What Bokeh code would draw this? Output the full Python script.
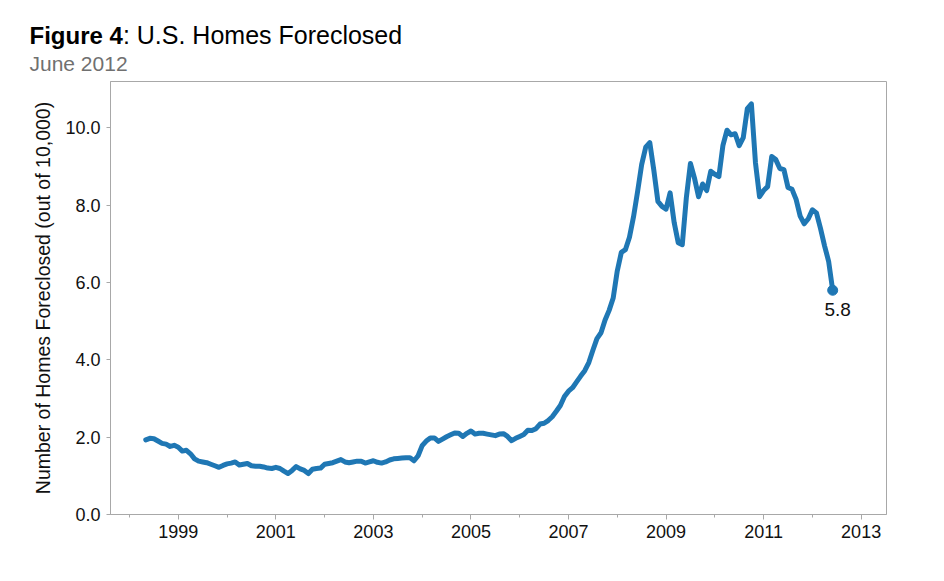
from bokeh.plotting import figure
from bokeh.layouts import column
from bokeh.models import Label, FixedTicker, NumeralTickFormatter, Range1d, ColumnDataSource
from bokeh.core.properties import value
from bokeh.embed import file_html
from bokeh.resources import INLINE

# ---- data: homes foreclosed per 10,000, monthly, May 1998 - June 2012 ----
start_year = 1998
start_month = 5
homes_1998 = [1.93, 1.97, 1.96, 1.90, 1.84, 1.82, 1.76, 1.79]
homes_1999 = [1.74, 1.64, 1.66, 1.57, 1.44, 1.38, 1.36, 1.34, 1.30, 1.26, 1.22, 1.27]
homes_2000 = [1.31, 1.33, 1.36, 1.28, 1.30, 1.32, 1.26, 1.25, 1.25, 1.23, 1.20, 1.19]
homes_2001 = [1.22, 1.19, 1.12, 1.06, 1.14, 1.24, 1.18, 1.14, 1.06, 1.17, 1.19, 1.20]
homes_2002 = [1.30, 1.32, 1.34, 1.38, 1.42, 1.36, 1.34, 1.36, 1.38, 1.38, 1.33, 1.36]
homes_2003 = [1.39, 1.35, 1.33, 1.36, 1.41, 1.44, 1.45, 1.46, 1.47, 1.47, 1.39, 1.52]
homes_2004 = [1.78, 1.90, 1.98, 1.98, 1.89, 1.95, 2.01, 2.06, 2.11, 2.10, 2.02, 2.10]
homes_2005 = [2.16, 2.08, 2.10, 2.10, 2.08, 2.06, 2.04, 2.08, 2.09, 2.02, 1.91, 1.97]
homes_2006 = [2.02, 2.07, 2.18, 2.17, 2.22, 2.34, 2.36, 2.43, 2.53, 2.67, 2.82, 3.05]
homes_2007 = [3.19, 3.28, 3.43, 3.58, 3.72, 3.93, 4.25, 4.55, 4.70, 5.03, 5.28, 5.60]
homes_2008 = [6.30, 6.78, 6.85, 7.17, 7.70, 8.35, 9.05, 9.50, 9.62, 8.90, 8.10, 7.97]
homes_2009 = [7.90, 8.32, 7.55, 7.03, 6.98, 8.20, 9.08, 8.70, 8.22, 8.55, 8.38, 8.88]
homes_2010 = [8.80, 8.74, 9.55, 9.94, 9.82, 9.85, 9.54, 9.75, 10.50, 10.62, 9.10, 8.22]
homes_2011 = [8.38, 8.48, 9.26, 9.18, 8.95, 8.92, 8.46, 8.41, 8.15, 7.72, 7.52, 7.65]
homes_2012 = [7.88, 7.80, 7.40, 6.95, 6.55, 5.80]

values = (homes_1998 + homes_1999 + homes_2000 + homes_2001 + homes_2002 + homes_2003
          + homes_2004 + homes_2005 + homes_2006 + homes_2007 + homes_2008 + homes_2009
          + homes_2010 + homes_2011 + homes_2012)
dates = [start_year + (start_month - 1 + i) / 12.0 for i in range(len(values))]

year_labels = [1999, 2001, 2003, 2005, 2007, 2009, 2011, 2013]
year_minor = list(range(1998, 2014))
y_ticks = [0, 2, 4, 6, 8, 10]

title_bold = "Figure 4"
title_rest = ": U.S. Homes Foreclosed"
subtitle = "June 2012"
y_label = "Number of Homes Foreclosed (out of 10,000)"

FONT = "Liberation Sans"
BLUE = "#1f77b4"
AXC = "#a8a8a8"
W = 930
HEAD = 81

# ---- header figure holding the title texts (pixel coordinates, y down) ----
head = figure(width=W, height=HEAD, output_backend="svg", toolbar_location=None,
              x_range=Range1d(0, W), y_range=Range1d(HEAD, 0),
              x_axis_type=None, y_axis_type=None,
              min_border=0, min_border_left=0, min_border_right=0,
              min_border_top=0, min_border_bottom=0)
head.frame_align = False
head.outline_line_color = None
head.grid.visible = False
head.background_fill_color = "white"
head.border_fill_color = "white"
head.text(x=[29], y=[34.5], text=[title_bold], text_font=value(FONT), text_font_size="24px",
          text_font_style="bold", text_color="#000000", text_baseline="alphabetic",
          text_align="left")
head.text(x=[122.4], y=[34.5], text=[title_rest], text_font=value(FONT), text_font_size="25px",
          text_font_style="normal", text_color="#000000", text_baseline="alphabetic",
          text_align="left")
head.text(x=[29], y=[63], text=[subtitle], text_font=value(FONT), text_font_size="21px",
          text_color="#707070", text_baseline="alphabetic", text_align="left")

# ---- main chart ----
src = ColumnDataSource(dict(x=dates, y=values))
last = ColumnDataSource(dict(x=[dates[-1]], y=[values[-1]]))

p = figure(width=W, height=489, output_backend="svg", toolbar_location=None,
           x_range=Range1d(1997.61, 2013.52), y_range=Range1d(0, 11.2),
           min_border_left=110, min_border_top=0, min_border_right=W - 886,
           min_border_bottom=56)
p.frame_align = False
p.background_fill_color = "white"
p.border_fill_color = "white"
p.outline_line_color = AXC
p.outline_line_width = 1
p.grid.visible = False

p.line("x", "y", source=src, line_width=5, color=BLUE, line_join="round", line_cap="round")
p.scatter("x", "y", source=last, size=10, color=BLUE)

xa = p.xaxis[0]
xa.ticker = FixedTicker(ticks=year_labels, minor_ticks=year_minor)
xa.formatter = NumeralTickFormatter(format="0")
xa.axis_line_color = AXC
xa.major_tick_line_color = AXC
xa.minor_tick_line_color = AXC
xa.major_tick_in = 0
xa.major_tick_out = 5
xa.minor_tick_in = 0
xa.minor_tick_out = 3
xa.major_label_standoff = 5
xa.major_label_text_font = FONT
xa.major_label_text_font_size = "18px"
xa.major_label_text_color = "#111111"

ya = p.yaxis[0]
ya.ticker = FixedTicker(ticks=y_ticks, minor_ticks=[])
ya.formatter = NumeralTickFormatter(format="0.0")
ya.axis_line_color = AXC
ya.major_tick_line_color = AXC
ya.major_tick_in = 0
ya.major_tick_out = 4
ya.major_label_standoff = 6
ya.major_label_text_font = FONT
ya.major_label_text_font_size = "18px"
ya.major_label_text_color = "#111111"
ya.axis_label = y_label
ya.axis_label_text_font = FONT
ya.axis_label_text_font_size = "19.5px"
ya.axis_label_text_font_style = "normal"
ya.axis_label_text_color = "#111111"
ya.axis_label_standoff = 8

p.add_layout(Label(x=dates[-1], y=values[-1], text=f"{values[-1]:.1f}",
                   text_font=FONT, text_font_size="19px", text_color="#111111",
                   text_align="center", text_baseline="top", x_offset=5, y_offset=-13))

layout = column(head, p, spacing=0)
open("out.html", "w").write(file_html(layout, INLINE))
